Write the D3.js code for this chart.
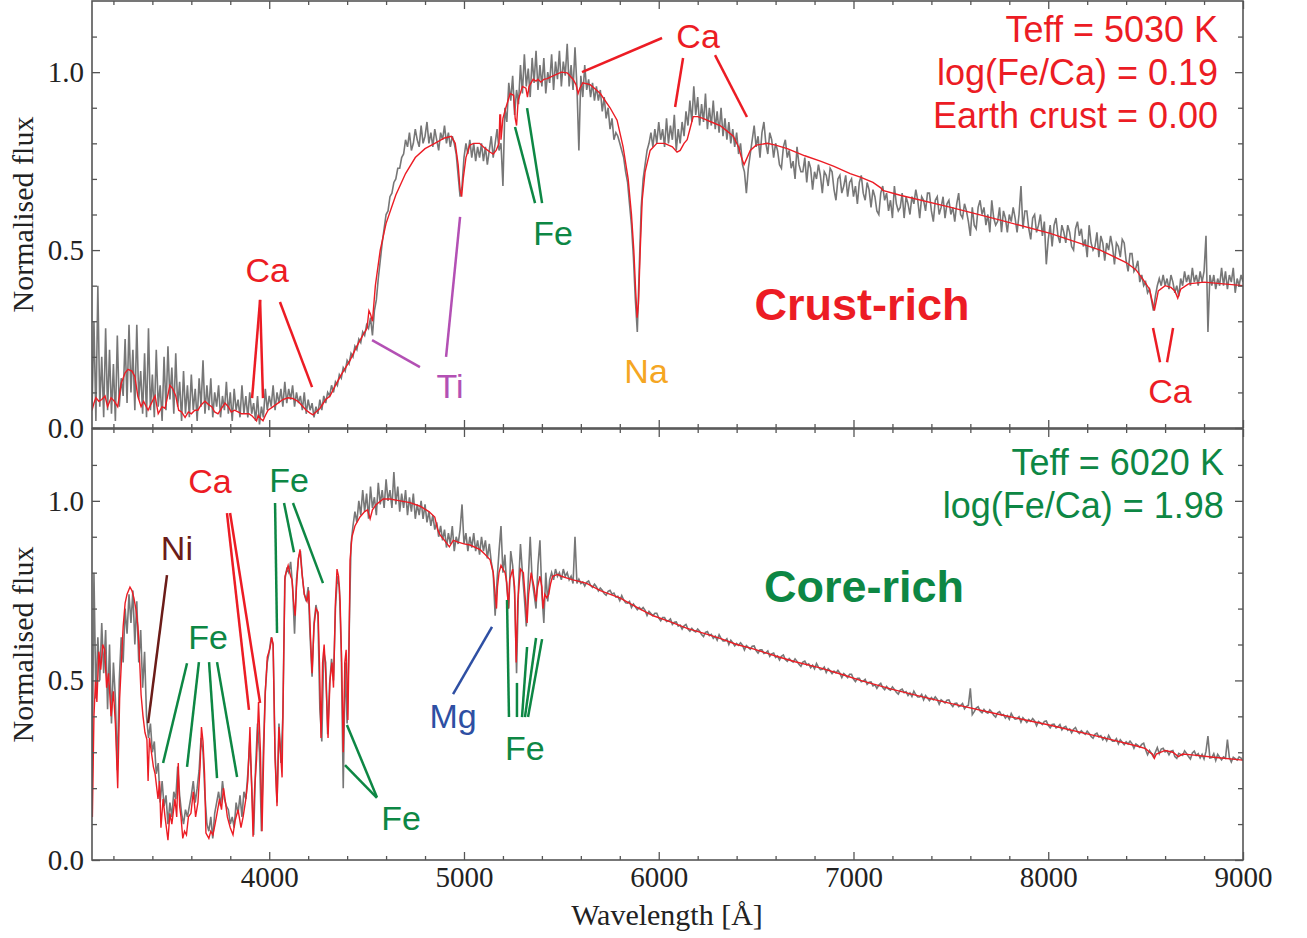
<!DOCTYPE html>
<html>
<head>
<meta charset="utf-8">
<script src="https://cdn.jsdelivr.net/npm/d3@7"></script>
<style>
  body { margin: 0; background: #fff; }
  .axis .tick text { font-family: "Liberation Serif", "Times New Roman", serif; font-size: 29px; fill: #222; }
  .axis-title { font-family: "Liberation Serif", "Times New Roman", serif; font-size: 30px; fill: #222; }
  .note { font-family: "Liberation Sans", Arial, sans-serif; }
</style>
</head>
<body>
<svg id="chart" width="1307" height="938"></svg>
<script>
const RED = "#ec1c24", GREEN = "#0d8744", PURPLE = "#b350b4", ORANGE = "#f5a623", BROWN = "#6b1c18", BLUE = "#2e4fa3"

// ticks
const xMajor = [4000, 5000, 6000, 7000, 8000, 9000]
const xMinor = [3200, 3400, 3600, 3800, 4200, 4400, 4600, 4800, 5200, 5400, 5600, 5800, 6200, 6400, 6600, 6800,
  7200, 7400, 7600, 7800, 8200, 8400, 8600, 8800]
const yMajor = [0, 0.5, 1.0]
const yMinor = [0.1, 0.2, 0.3, 0.4, 0.6, 0.7, 0.8, 0.9, 1.1]

// crust-rich star: model fit [wavelength, flux]
const crustModel = [[3090,0.05],[3100,0.07],[3110,0.085],[3125,0.075],[3140,0.08],[3157,0.09],[3170,0.06],[3188,0.085],[3205,0.075],[3222,0.06],
  [3240,0.125],[3260,0.155],[3275,0.165],[3295,0.16],[3310,0.145],[3325,0.09],[3342,0.06],[3355,0.075],[3378,0.05],[3395,0.07],[3414,0.09],
  [3430,0.04],[3450,0.06],[3465,0.055],[3490,0.12],[3505,0.11],[3520,0.09],[3535,0.05],[3550,0.045],[3568,0.03],[3585,0.045],[3600,0.04],
  [3618,0.05],[3634,0.05],[3650,0.065],[3670,0.075],[3690,0.065],[3705,0.06],[3720,0.045],[3737,0.04],[3755,0.055],[3773,0.07],[3790,0.06],
  [3805,0.045],[3822,0.05],[3840,0.045],[3858,0.04],[3876,0.04],[3895,0.04],[3910,0.035],[3927,0.025],[3935,0.02],[3943,0.035],[3958,0.025],
  [3968,0.02],[3980,0.035],[3994,0.05],[4020,0.06],[4045,0.07],[4070,0.08],[4097,0.085],[4120,0.083],[4148,0.075],[4170,0.062],[4190,0.05],
  [4210,0.042],[4225,0.037],[4240,0.045],[4260,0.055],[4290,0.08],[4312,0.09],[4340,0.12],[4370,0.15],[4415,0.19],[4450,0.23],[4480,0.26],
  [4502,0.28],[4512,0.33],[4520,0.32],[4530,0.30],[4545,0.40],[4570,0.50],[4600,0.575],[4650,0.655],[4700,0.715],[4750,0.76],[4800,0.785],
  [4850,0.80],[4900,0.815],[4935,0.82],[4955,0.80],[4970,0.74],[4980,0.67],[4988,0.65],[4996,0.70],[5010,0.76],[5030,0.795],[5050,0.80],
  [5080,0.80],[5110,0.785],[5135,0.775],[5150,0.77],[5165,0.78],[5180,0.80],[5184,0.88],[5188,0.88],[5190,0.81],[5200,0.87],[5215,0.90],
  [5237,0.94],[5255,0.935],[5263,0.87],[5270,0.85],[5278,0.92],[5300,0.96],[5318,0.955],[5326,0.93],[5334,0.96],[5355,0.98],[5370,0.975],
  [5380,0.98],[5395,0.972],[5410,0.98],[5427,0.982],[5460,0.99],[5500,1.0],[5530,0.998],[5560,0.98],[5575,0.965],[5586,0.94],[5595,0.955],
  [5610,0.97],[5648,0.965],[5680,0.95],[5700,0.94],[5750,0.90],[5786,0.865],[5817,0.79],[5843,0.70],[5860,0.60],[5872,0.50],[5882,0.38],
  [5889,0.31],[5896,0.35],[5905,0.50],[5915,0.64],[5930,0.72],[5956,0.78],[5990,0.80],[6030,0.80],[6070,0.79],[6094,0.775],[6110,0.78],
  [6130,0.80],[6146,0.81],[6165,0.85],[6177,0.875],[6200,0.875],[6227,0.87],[6270,0.86],[6315,0.85],[6350,0.835],[6383,0.82],[6410,0.79],
  [6425,0.76],[6438,0.74],[6450,0.755],[6470,0.78],[6500,0.795],[6557,0.80],[6600,0.795],[6660,0.785],[6750,0.765],[6830,0.75],[6900,0.735],
  [6983,0.715],[7035,0.705],[7100,0.69],[7140,0.675],[7150,0.668],[7240,0.654],[7500,0.62],[7754,0.584],[8010,0.547],[8267,0.50],[8400,0.465],
  [8450,0.445],[8490,0.415],[8520,0.39],[8545,0.33],[8565,0.385],[8600,0.40],[8630,0.395],[8650,0.385],[8665,0.365],[8680,0.39],[8720,0.405],
  [8800,0.41],[8900,0.405],[9000,0.40]]

// crust-rich star: observed spectrum, 10 A sampling, [block start, fluxes]
const crustObs = [
  [3090,[0.05,0.30,0.02,0.40,0.06,0.20,0.03,0.28,0.05,0.22]],
  [3190,[0.04,0.18,0.02,0.26,0.06,0.14,0.09,0.25,0.07,0.29]],
  [3290,[0.10,0.22,0.05,0.29,0.08,0.16,0.04,0.21,0.03,0.28]],
  [3390,[0.05,0.15,0.03,0.22,0.06,0.12,0.02,0.20,0.05,0.23]],
  [3490,[0.08,0.17,0.04,0.21,0.06,0.13,0.02,0.16,0.04,0.12]],
  [3590,[0.03,0.15,0.05,0.11,0.02,0.14,0.06,0.19,0.04,0.12]],
  [3690,[0.05,0.14,0.03,0.10,0.06,0.12,0.03,0.09,0.05,0.13]],
  [3790,[0.04,0.10,0.02,0.11,0.05,0.08,0.03,0.12,0.04,0.09]],
  [3890,[0.03,0.10,0.04,0.07,0.02,0.09,0.01,0.06,0.03,0.11]],
  [3990,[0.05,0.09,0.06,0.12,0.05,0.10,0.07,0.11,0.06,0.13]],
  [4090,[0.07,0.11,0.08,0.12,0.06,0.10,0.07,0.09,0.05,0.10]],
  [4190,[0.04,0.08,0.05,0.07,0.03,0.06,0.04,0.08,0.05,0.09]],
  [4290,[0.07,0.10,0.09,0.12,0.10,0.13,0.12,0.15,0.14,0.17]],
  [4390,[0.16,0.19,0.18,0.21,0.20,0.23,0.22,0.25,0.24,0.27]],
  [4490,[0.26,0.29,0.28,0.31,0.26,0.33,0.36,0.42,0.47,0.52]],
  [4590,[0.56,0.60,0.61,0.65,0.66,0.69,0.70,0.73,0.73,0.76]],
  [4690,[0.77,0.81,0.79,0.83,0.78,0.80,0.84,0.81,0.79,0.85]],
  [4790,[0.80,0.82,0.86,0.80,0.83,0.79,0.84,0.81,0.78,0.83]],
  [4890,[0.81,0.85,0.80,0.83,0.79,0.82,0.80,0.77,0.71,0.65]],
  [4990,[0.68,0.76,0.80,0.77,0.81,0.76,0.80,0.75,0.79,0.76]],
  [5090,[0.80,0.75,0.79,0.74,0.78,0.82,0.76,0.80,0.84,0.78]],
  [5190,[0.80,0.68,0.90,0.86,0.97,0.92,0.99,0.88,0.95,0.91]],
  [5290,[1.02,0.94,1.05,0.96,1.01,0.93,1.04,0.97,1.06,0.95]],
  [5390,[1.02,0.96,1.04,0.94,1.00,0.97,1.05,0.95,1.03,0.98]],
  [5490,[1.06,0.96,1.03,0.99,1.08,0.96,1.02,0.95,1.07,0.96]],
  [5590,[0.78,0.99,0.93,1.02,0.95,0.98,0.93,0.97,0.92,0.96]],
  [5690,[0.92,0.95,0.89,0.93,0.87,0.90,0.84,0.87,0.81,0.83]],
  [5790,[0.82,0.80,0.78,0.76,0.72,0.69,0.63,0.57,0.48,0.36]],
  [5890,[0.27,0.45,0.62,0.70,0.74,0.78,0.80,0.83,0.79,0.84]],
  [5990,[0.80,0.86,0.81,0.84,0.79,0.87,0.80,0.85,0.81,0.88]],
  [6090,[0.78,0.84,0.80,0.86,0.82,0.89,0.85,0.92,0.86,0.96]],
  [6190,[0.88,0.93,0.85,0.91,0.86,0.94,0.84,0.90,0.85,0.92]],
  [6290,[0.84,0.89,0.83,0.90,0.82,0.87,0.81,0.86,0.80,0.84]],
  [6390,[0.79,0.83,0.77,0.80,0.74,0.72,0.66,0.73,0.77,0.81]],
  [6490,[0.85,0.79,0.82,0.76,0.83,0.86,0.80,0.77,0.83,0.81]],
  [6590,[0.76,0.80,0.78,0.74,0.73,0.79,0.81,0.76,0.78,0.73]],
  [6690,[0.75,0.70,0.79,0.74,0.72,0.72,0.76,0.69,0.75,0.73]],
  [6790,[0.67,0.72,0.70,0.74,0.71,0.66,0.72,0.71,0.68,0.73]],
  [6890,[0.72,0.67,0.64,0.70,0.71,0.66,0.68,0.71,0.65,0.69]],
  [6990,[0.70,0.65,0.68,0.63,0.69,0.71,0.66,0.64,0.69,0.67]],
  [7090,[0.62,0.67,0.65,0.61,0.60,0.66,0.68,0.64,0.66,0.61]],
  [7190,[0.64,0.59,0.68,0.63,0.61,0.62,0.66,0.59,0.65,0.63]],
  [7290,[0.60,0.65,0.63,0.67,0.64,0.59,0.65,0.64,0.61,0.66]],
  [7390,[0.66,0.61,0.58,0.64,0.65,0.60,0.62,0.65,0.59,0.63]],
  [7490,[0.64,0.60,0.62,0.58,0.63,0.66,0.60,0.59,0.63,0.61]],
  [7590,[0.58,0.54,0.62,0.57,0.56,0.62,0.64,0.60,0.62,0.57]],
  [7690,[0.60,0.55,0.64,0.59,0.57,0.58,0.62,0.55,0.61,0.59]],
  [7790,[0.55,0.60,0.58,0.62,0.59,0.55,0.60,0.68,0.56,0.61]],
  [7890,[0.61,0.56,0.53,0.59,0.60,0.55,0.57,0.60,0.54,0.58]],
  [7990,[0.46,0.53,0.57,0.51,0.57,0.59,0.54,0.52,0.57,0.55]],
  [8090,[0.52,0.57,0.55,0.51,0.50,0.56,0.58,0.54,0.56,0.51]],
  [8190,[0.53,0.48,0.57,0.52,0.50,0.51,0.55,0.48,0.54,0.52]],
  [8290,[0.47,0.52,0.50,0.54,0.51,0.46,0.52,0.51,0.48,0.53]],
  [8390,[0.52,0.47,0.44,0.49,0.49,0.44,0.45,0.47,0.41,0.43]],
  [8490,[0.40,0.41,0.38,0.39,0.36,0.33,0.37,0.40,0.42,0.40]],
  [8590,[0.43,0.40,0.42,0.39,0.43,0.41,0.38,0.40,0.37,0.42]],
  [8690,[0.40,0.44,0.41,0.43,0.40,0.45,0.41,0.43,0.40,0.44]],
  [8790,[0.41,0.44,0.54,0.27,0.43,0.40,0.43,0.39,0.42,0.40]],
  [8890,[0.45,0.40,0.44,0.39,0.43,0.41,0.45,0.38,0.42,0.40]],
  [8990,[0.43,0.41]]
]

// core-rich star: model fit
const coreModel = [[3092,0.12],[3100,0.40],[3108,0.50],[3115,0.44],[3125,0.58],[3135,0.53],[3145,0.60],[3155,0.585],[3165,0.48],[3175,0.52],
  [3188,0.40],[3200,0.47],[3210,0.38],[3222,0.20],[3232,0.45],[3240,0.54],[3250,0.65],[3260,0.715],[3270,0.74],[3285,0.76],[3295,0.75],
  [3305,0.73],[3315,0.70],[3326,0.65],[3335,0.55],[3342,0.46],[3352,0.40],[3362,0.355],[3372,0.335],[3378,0.22],[3385,0.34],[3395,0.30],
  [3405,0.26],[3414,0.24],[3429,0.17],[3437,0.22],[3444,0.09],[3455,0.17],[3465,0.12],[3480,0.055],[3490,0.13],[3500,0.10],[3516,0.17],
  [3525,0.12],[3533,0.27],[3540,0.15],[3547,0.12],[3556,0.06],[3565,0.08],[3575,0.07],[3585,0.12],[3598,0.13],[3610,0.19],[3622,0.12],
  [3634,0.16],[3645,0.26],[3652,0.37],[3660,0.33],[3668,0.24],[3675,0.075],[3690,0.06],[3700,0.08],[3711,0.07],[3722,0.10],[3732,0.13],
  [3745,0.17],[3755,0.14],[3765,0.20],[3773,0.17],[3785,0.12],[3800,0.09],[3814,0.07],[3825,0.11],[3840,0.14],[3855,0.09],[3866,0.12],
  [3880,0.17],[3890,0.22],[3901,0.37],[3910,0.20],[3917,0.065],[3925,0.20],[3935,0.28],[3945,0.44],[3955,0.30],[3963,0.08],[3972,0.30],
  [3979,0.46],[3990,0.565],[4004,0.59],[4013,0.62],[4020,0.60],[4030,0.28],[4040,0.15],[4050,0.37],[4058,0.30],[4066,0.23],[4074,0.55],
  [4081,0.79],[4097,0.82],[4110,0.79],[4117,0.78],[4125,0.72],[4133,0.68],[4140,0.76],[4150,0.84],[4158,0.865],[4168,0.80],[4180,0.74],
  [4194,0.72],[4203,0.75],[4212,0.62],[4220,0.52],[4230,0.65],[4240,0.70],[4251,0.69],[4258,0.55],[4266,0.34],[4274,0.55],[4282,0.60],
  [4290,0.52],[4302,0.34],[4312,0.50],[4322,0.55],[4330,0.48],[4340,0.72],[4348,0.81],[4356,0.79],[4364,0.72],[4372,0.55],[4380,0.30],
  [4388,0.55],[4395,0.585],[4404,0.39],[4410,0.60],[4415,0.835],[4425,0.90],[4440,0.93],[4466,0.955],[4490,0.97],[4505,0.975],[4518,0.95],
  [4530,0.975],[4550,0.99],[4585,1.005],[4620,1.005],[4672,1.0],[4723,0.995],[4775,0.985],[4820,0.97],[4850,0.955],[4865,0.92],[4877,0.905],
  [4900,0.89],[4925,0.872],[4945,0.89],[4970,0.885],[5000,0.88],[5031,0.877],[5083,0.864],[5110,0.85],[5134,0.836],[5150,0.80],[5160,0.74],
  [5167,0.70],[5172,0.76],[5180,0.80],[5190,0.82],[5200,0.81],[5211,0.80],[5220,0.77],[5228,0.70],[5235,0.78],[5250,0.81],[5260,0.76],
  [5268,0.55],[5276,0.72],[5290,0.81],[5305,0.80],[5316,0.72],[5324,0.66],[5332,0.74],[5345,0.80],[5360,0.76],[5370,0.72],[5378,0.76],
  [5390,0.79],[5400,0.76],[5406,0.70],[5415,0.74],[5425,0.73],[5435,0.74],[5445,0.77],[5455,0.79],[5480,0.795],[5500,0.79],[5530,0.785],
  [5560,0.78],[5596,0.775],[5630,0.77],[5700,0.75],[5800,0.73],[5900,0.70],[5972,0.68],[6050,0.665],[6146,0.645],[6250,0.628],[6315,0.617],
  [6400,0.60],[6485,0.588],[6600,0.568],[6700,0.552],[6829,0.535],[6950,0.515],[7035,0.50],[7200,0.475],[7350,0.455],[7497,0.436],
  [7750,0.405],[8005,0.376],[8250,0.345],[8450,0.318],[8500,0.31],[8520,0.30],[8535,0.295],[8545,0.283],[8555,0.295],[8600,0.305],
  [8640,0.30],[8668,0.288],[8690,0.295],[8750,0.292],[8850,0.286],[9000,0.278]]

// core-rich star: observed spectrum
const coreObs = [
  [3090,[0.15,0.80,0.45,0.62,0.50,0.66,0.52,0.64,0.42,0.60]],
  [3190,[0.38,0.55,0.45,0.25,0.50,0.62,0.55,0.70,0.63,0.74]],
  [3290,[0.66,0.75,0.60,0.72,0.55,0.64,0.48,0.58,0.40,0.34]],
  [3390,[0.38,0.30,0.33,0.24,0.27,0.16,0.22,0.15,0.18,0.10]],
  [3490,[0.16,0.12,0.19,0.17,0.26,0.18,0.13,0.10,0.14,0.12]],
  [3590,[0.15,0.18,0.22,0.16,0.20,0.25,0.34,0.30,0.18,0.10]],
  [3690,[0.08,0.12,0.06,0.13,0.16,0.19,0.15,0.22,0.17,0.15]],
  [3790,[0.14,0.10,0.12,0.09,0.16,0.13,0.18,0.12,0.19,0.17]],
  [3890,[0.24,0.33,0.21,0.07,0.26,0.38,0.30,0.08,0.31,0.47]],
  [3990,[0.55,0.58,0.62,0.60,0.30,0.16,0.38,0.27,0.40,0.78]],
  [4090,[0.81,0.80,0.83,0.76,0.63,0.78,0.84,0.86,0.79,0.74]],
  [4190,[0.72,0.76,0.62,0.51,0.66,0.71,0.68,0.42,0.33,0.58]],
  [4290,[0.55,0.35,0.49,0.56,0.50,0.70,0.79,0.76,0.58,0.20]],
  [4390,[0.55,0.38,0.62,0.88,0.93,0.97,0.94,1.00,0.96,1.03]],
  [4490,[0.97,1.02,0.95,1.04,0.98,1.01,0.96,1.05,0.99,1.03]],
  [4590,[0.98,1.06,1.00,1.03,0.98,1.08,0.99,1.04,0.97,1.02]],
  [4690,[0.98,1.03,0.96,1.01,0.97,1.02,0.95,0.99,0.96,1.00]],
  [4790,[0.95,0.99,0.94,0.97,0.93,0.96,0.92,0.94,0.90,0.93]],
  [4890,[0.89,0.92,0.87,0.91,0.88,0.93,0.86,0.90,0.88,0.92]],
  [4990,[0.99,0.88,0.91,0.86,0.90,0.87,0.91,0.86,0.89,0.85]],
  [5090,[0.90,0.86,0.89,0.84,0.88,0.83,0.80,0.68,0.78,0.86]],
  [5190,[0.93,0.80,0.85,0.76,0.70,0.86,0.82,0.74,0.52,0.76]],
  [5290,[0.88,0.80,0.73,0.65,0.78,0.90,0.78,0.74,0.70,0.82]],
  [5390,[0.89,0.74,0.66,0.80,0.72,0.78,0.80,0.78,0.81,0.79]],
  [5490,[0.80,0.78,0.81,0.79,0.80,0.78,0.79,0.77,0.90,0.77]],
  [5590,[0.782,0.770,0.774,0.763,0.773,0.777,0.765,0.759,0.768,0.761]],
  [5690,[0.749,0.757,0.751,0.742,0.737,0.748,0.751,0.740,0.743,0.732]],
  [5790,[0.734,0.722,0.736,0.724,0.716,0.715,0.720,0.703,0.713,0.705]],
  [5890,[0.697,0.703,0.697,0.703,0.695,0.681,0.692,0.686,0.680,0.687]],
  [5990,[0.687,0.674,0.666,0.675,0.675,0.664,0.666,0.671,0.656,0.662]],
  [6090,[0.663,0.651,0.654,0.643,0.652,0.656,0.643,0.637,0.645,0.638]],
  [6190,[0.635,0.643,0.637,0.628,0.622,0.634,0.636,0.625,0.628,0.617]],
  [6290,[0.623,0.612,0.627,0.617,0.610,0.610,0.616,0.600,0.612,0.605]],
  [6390,[0.596,0.603,0.598,0.605,0.598,0.585,0.597,0.592,0.587,0.595]],
  [6490,[0.596,0.583,0.576,0.585,0.585,0.575,0.577,0.582,0.567,0.574]],
  [6590,[0.576,0.564,0.568,0.557,0.567,0.571,0.558,0.553,0.561,0.555]],
  [6690,[0.551,0.560,0.553,0.545,0.539,0.551,0.554,0.543,0.546,0.535]],
  [6790,[0.542,0.532,0.547,0.537,0.530,0.531,0.537,0.522,0.533,0.527]],
  [6890,[0.519,0.526,0.521,0.528,0.520,0.508,0.519,0.514,0.508,0.517]],
  [6990,[0.517,0.504,0.497,0.506,0.506,0.496,0.498,0.503,0.489,0.495]],
  [7090,[0.496,0.485,0.488,0.478,0.487,0.492,0.480,0.474,0.483,0.476]],
  [7190,[0.473,0.482,0.475,0.467,0.462,0.473,0.476,0.466,0.469,0.458]],
  [7290,[0.465,0.455,0.470,0.460,0.454,0.454,0.461,0.446,0.458,0.451]],
  [7390,[0.444,0.452,0.446,0.454,0.447,0.434,0.446,0.442,0.437,0.445]],
  [7490,[0.446,0.434,0.427,0.436,0.437,0.427,0.430,0.436,0.421,0.428]],
  [7590,[0.431,0.478,0.405,0.413,0.423,0.427,0.415,0.410,0.419,0.412]],
  [7690,[0.409,0.418,0.412,0.403,0.398,0.410,0.413,0.403,0.405,0.395]],
  [7790,[0.402,0.392,0.408,0.398,0.392,0.393,0.399,0.384,0.396,0.390]],
  [7890,[0.383,0.391,0.386,0.394,0.387,0.374,0.386,0.382,0.377,0.386]],
  [7990,[0.387,0.375,0.368,0.377,0.378,0.368,0.371,0.377,0.362,0.369]],
  [8090,[0.372,0.361,0.365,0.354,0.364,0.369,0.357,0.352,0.360,0.354]],
  [8190,[0.350,0.359,0.352,0.344,0.339,0.350,0.353,0.343,0.346,0.335]],
  [8290,[0.342,0.332,0.347,0.337,0.331,0.331,0.338,0.323,0.335,0.328]],
  [8390,[0.321,0.329,0.323,0.331,0.324,0.311,0.323,0.319,0.314,0.322]],
  [8490,[0.325,0.307,0.293,0.305,0.297,0.287,0.300,0.313,0.296,0.309]],
  [8590,[0.311,0.301,0.304,0.293,0.303,0.305,0.288,0.283,0.297,0.294]],
  [8690,[0.291,0.304,0.297,0.288,0.281,0.298,0.303,0.291,0.296,0.284]],
  [8790,[0.294,0.281,0.303,0.345,0.284,0.285,0.296,0.277,0.294,0.286]],
  [8890,[0.279,0.287,0.283,0.335,0.285,0.273,0.286,0.282,0.278,0.287]],
  [8990,[0.284,0.276]]
]

// line identifications: label anchor and leader lines in [wavelength, flux]
const crustNotes = [
  {text: "Ca", color: RED, at: [3990, 0.41], lines: [[3953, 0.36, 3912, 0.084], [3953, 0.36, 3968, 0.084], [4055, 0.354, 4220, 0.115]]},
  {text: "Ti", color: PURPLE, at: [4928, 0.084], lines: [[4528, 0.247, 4774, 0.171], [4980, 0.593, 4908, 0.20]]},
  {text: "Fe", color: GREEN, at: [5457, 0.514], lines: [[5262, 0.846, 5365, 0.632], [5324, 0.899, 5401, 0.632]]},
  {text: "Na", color: ORANGE, at: [5935, 0.126], lines: []},
  {text: "Ca", color: RED, at: [6202, 1.068], lines: [[6017, 1.096, 5606, 1.0], [6125, 1.04, 6084, 0.902], [6289, 1.048, 6453, 0.874]]},
  {text: "Ca", color: RED, at: [8625, 0.07], lines: [[8538, 0.281, 8574, 0.185], [8641, 0.281, 8610, 0.185]]}
]
const coreNotes = [
  {text: "Ni", color: BROWN, at: [3526, 0.835], lines: [[3475, 0.793, 3378, 0.381]]},
  {text: "Ca", color: RED, at: [3696, 1.022], lines: [[3783, 0.966, 3896, 0.418], [3799, 0.966, 3953, 0.437]]},
  {text: "Fe", color: GREEN, at: [3686, 0.587], lines: [[3578, 0.548, 3455, 0.27], [3639, 0.551, 3578, 0.259], [3691, 0.551, 3732, 0.228], [3732, 0.551, 3835, 0.231]]},
  {text: "Fe", color: GREEN, at: [4102, 1.024], lines: [[4030, 0.994, 4040, 0.632], [4076, 0.994, 4127, 0.857], [4122, 0.994, 4276, 0.771]]},
  {text: "Fe", color: GREEN, at: [4677, 0.084], lines: [[4399, 0.376, 4553, 0.175], [4389, 0.264, 4553, 0.173]]},
  {text: "Mg", color: BLUE, at: [4944, 0.367], lines: [[5144, 0.649, 4944, 0.462]]},
  {text: "Fe", color: GREEN, at: [5313, 0.278], lines: [[5221, 0.724, 5231, 0.398], [5272, 0.493, 5272, 0.398], [5324, 0.593, 5298, 0.398], [5370, 0.618, 5313, 0.398], [5401, 0.615, 5329, 0.398]]}
]

const crustParams = ["Teff = 5030 K", "log(Fe/Ca) = 0.19", "Earth crust = 0.00"]
const coreParams = ["Teff = 6020 K", "log(Fe/Ca) = 1.98"]

const panels = [
  {id: "crust", top: 1, bottom: 428, obs: crustObs, model: crustModel, notes: crustNotes, params: crustParams,
    paramAt: [8872, [1.085, 0.964, 0.843]], color: RED, title: "Crust-rich", titleAt: [7044, 0.3035], xLabels: false},
  {id: "core", top: 429, bottom: 860, obs: coreObs, model: coreModel, notes: coreNotes, params: coreParams,
    paramAt: [8902, [1.072, 0.952]], color: GREEN, title: "Core-rich", titleAt: [7054, 0.718], xLabels: true}
]

const svg = d3.select("#chart")
const x = d3.scaleLinear().domain([3090, 9000]).range([92, 1243])

panels.forEach(p => {
  let y = d3.scaleLinear().domain([0, 1.2]).range([p.bottom, p.top])
  let g = svg.append("g").attr("id", p.id)

  g.append("clipPath").attr("id", "clip-" + p.id)
    .append("rect").attr("x", 92).attr("y", p.top).attr("width", 1151).attr("height", p.bottom - p.top)

  let line = d3.line().x(d => x(d[0])).y(d => y(d[1]))
  let obsPoints = p.obs.flatMap(([start, vals]) => vals.map((v, i) => [start + 10 * i, v]))

  g.append("path").datum(obsPoints)
    .attr("clip-path", `url(#clip-${p.id})`)
    .attr("d", line).attr("fill", "none").attr("stroke", "#777").attr("stroke-width", 1.6)
  g.append("path").datum(p.model)
    .attr("clip-path", `url(#clip-${p.id})`)
    .attr("d", line).attr("fill", "none").attr("stroke", RED).attr("stroke-width", 1.4)

  // inward ticks on all four sides
  let ax = g.append("g").attr("class", "axis")
  ax.append("g").attr("transform", `translate(0,${p.bottom})`)
    .call(d3.axisBottom(x).tickValues(xMajor).tickSize(-8).tickPadding(6).tickFormat(p.xLabels ? d3.format("d") : ""))
  ax.append("g").attr("transform", `translate(0,${p.bottom})`)
    .call(d3.axisBottom(x).tickValues(xMinor).tickSize(-4).tickFormat(""))
  ax.append("g").attr("transform", `translate(0,${p.top})`)
    .call(d3.axisTop(x).tickValues(xMajor).tickSize(-8).tickFormat(""))
  ax.append("g").attr("transform", `translate(0,${p.top})`)
    .call(d3.axisTop(x).tickValues(xMinor).tickSize(-4).tickFormat(""))
  ax.append("g").attr("transform", "translate(92,0)")
    .call(d3.axisLeft(y).tickValues(yMajor).tickSize(-8).tickPadding(8).tickFormat(d3.format(".1f")))
  ax.append("g").attr("transform", "translate(92,0)")
    .call(d3.axisLeft(y).tickValues(yMinor).tickSize(-5).tickFormat(""))
  ax.append("g").attr("transform", "translate(1243,0)")
    .call(d3.axisRight(y).tickValues(yMajor).tickSize(-8).tickFormat(""))
  ax.append("g").attr("transform", "translate(1243,0)")
    .call(d3.axisRight(y).tickValues(yMinor).tickSize(-5).tickFormat(""))
  ax.selectAll(".domain").remove()
  ax.selectAll(".tick line").attr("stroke", "#555").attr("stroke-width", 1.3)

  g.append("rect")
    .attr("x", 92).attr("y", p.top).attr("width", 1151).attr("height", p.bottom - p.top)
    .attr("fill", "none").attr("stroke", "#555").attr("stroke-width", 1.6)

  g.append("text").attr("class", "axis-title")
    .attr("transform", `translate(33,${(p.top + p.bottom) / 2}) rotate(-90)`)
    .attr("text-anchor", "middle").text("Normalised flux")

  // element labels
  p.notes.forEach(n => {
    g.selectAll(null).data(n.lines).join("line")
      .attr("x1", d => x(d[0])).attr("y1", d => y(d[1]))
      .attr("x2", d => x(d[2])).attr("y2", d => y(d[3]))
      .attr("stroke", n.color).attr("stroke-width", 2.5)
    g.append("text").attr("class", "note")
      .attr("x", x(n.at[0])).attr("y", y(n.at[1]))
      .attr("text-anchor", "middle").attr("font-size", 34).attr("fill", n.color)
      .text(n.text)
  })

  g.selectAll(null).data(p.params).join("text").attr("class", "note")
    .attr("x", x(p.paramAt[0])).attr("y", (d, i) => y(p.paramAt[1][i]))
    .attr("text-anchor", "end").attr("font-size", 36).attr("fill", p.color)
    .text(d => d)

  g.append("text").attr("class", "note")
    .attr("x", x(p.titleAt[0])).attr("y", y(p.titleAt[1]))
    .attr("text-anchor", "middle").attr("font-size", 45).attr("font-weight", "bold").attr("fill", p.color)
    .text(p.title)
})

svg.append("text").attr("class", "axis-title")
  .attr("x", 667).attr("y", 925).attr("text-anchor", "middle")
  .text("Wavelength [Å]")
</script>
</body>
</html>
